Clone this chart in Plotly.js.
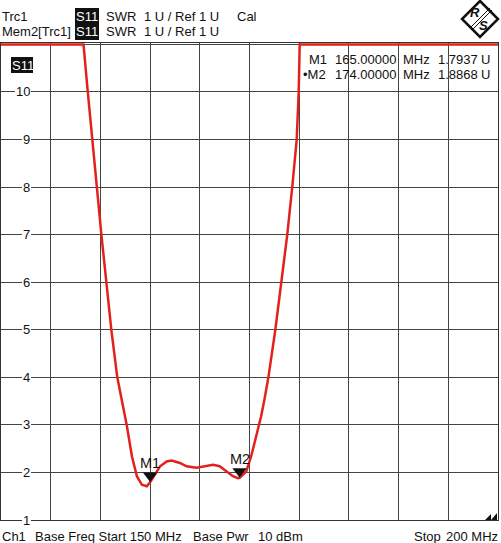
<!DOCTYPE html>
<html><head><meta charset="utf-8">
<script src="https://cdn.plot.ly/plotly-3.0.1.min.js"></script>
<style>html,body{margin:0;padding:0;background:#fff}#chart{width:501px;height:543px}</style>
</head><body><div id="chart"></div>
<script>
// ---- data ----
const freqMHz = [150, 158.3, 158.73, 159.17, 159.67, 160.1, 160.6, 161.1, 161.7,
  162.17, 162.67, 163.17, 163.67, 164.17, 164.67, 165.0, 165.5, 166.0, 166.67,
  167.17, 168.0, 168.67, 169.67, 170.67, 171.33, 172.0, 172.67, 173.33, 173.83,
  174.0, 174.67, 175.17, 175.67, 176.17, 176.5, 176.9, 177.6, 178.2, 178.8,
  179.3, 179.75, 179.95, 180.05, 200];
const swrU = [11, 11, 10, 9, 8, 7, 6, 5, 4,
  3.53, 2.97, 2.34, 1.92, 1.74, 1.71, 1.7937, 1.95, 2.13, 2.23,
  2.25, 2.20, 2.13, 2.10, 2.14, 2.16, 2.13, 2.02, 1.92, 1.88,
  1.8868, 2.02, 2.34, 2.76, 3.18, 3.53, 4, 5, 6, 7,
  8, 9, 10, 11, 11];
const markerNames = ['M1', 'M2'];
const markerFreq = [165, 174];
const markerSWR = [1.7937, 1.8868];
const yTickVals = [1, 2, 3, 4, 5, 6, 7, 8, 9, 10];
const yTickLabels = ['1', '2', '3', '4', '5', '6', '7', '8', '9', '10'];

// ---- layout helpers (pixel -> paper) ----
const L = 1, R = 498, T = 43, B = 520;
const px = v => (v - L) / (R - L);
const py = v => (B - v) / (B - T);
const FONT = 'Liberation Sans, Arial, sans-serif';
const FS = 13;
const RED = '#e3211c';

function txt(x, y, s, opts = {}) {
  return Object.assign({
    xref: 'paper', yref: 'paper', x: px(x), y: py(y), text: s, showarrow: false,
    xanchor: 'left', yanchor: 'middle', borderpad: 0, borderwidth: 0,
    font: {family: FONT, size: FS, color: '#111'}
  }, opts);
}

const annotations = [];
// header
annotations.push(txt(2, 16, 'Trc1'));
annotations.push(txt(2, 32, 'Mem2[Trc1]'));
annotations.push(txt(76, 16, 'S11', {font: {family: FONT, size: FS, color: '#fff'}}));
annotations.push(txt(76, 32, 'S11', {font: {family: FONT, size: FS, color: '#fff'}}));
annotations.push(txt(106, 16, 'SWR'));
annotations.push(txt(106, 32, 'SWR'));
annotations.push(txt(144, 16, '1 U / Ref 1 U'));
annotations.push(txt(144, 32, '1 U / Ref 1 U'));
annotations.push(txt(237, 16, 'Cal'));
// footer
annotations.push(txt(2, 536, 'Ch1'));
annotations.push(txt(35, 536, 'Base Freq Start 150 MHz'));
annotations.push(txt(193, 536, 'Base Pwr'));
annotations.push(txt(258, 536, '10 dBm'));
annotations.push(txt(414, 536, 'Stop'));
annotations.push(txt(498, 536, '200 MHz', {xanchor: 'right'}));
// S11 tag in plot
annotations.push(txt(12, 65, 'S11', {font: {family: FONT, size: FS, color: '#fff'}}));
// marker readout
markerNames.forEach((n, i) => {
  const y = 59 + i * 16;
  annotations.push(txt(i === 1 ? 303 : 309, y, (i === 1 ? '•' : '') + n));
  annotations.push(txt(335, y, markerFreq[i].toFixed(5)));
  annotations.push(txt(403, y, 'MHz'));
  annotations.push(txt(478, y, markerSWR[i].toFixed(4), {xanchor: 'right'}));
  annotations.push(txt(481, y, 'U'));
  // marker label above marker
  annotations.push({xref: 'x', yref: 'y', x: markerFreq[i], y: markerSWR[i], text: n,
    showarrow: false, yanchor: 'bottom', yshift: 10, borderpad: 0,
    font: {family: FONT, size: 14.5, color: '#111'}});
});
// y tick labels inside plot with white background
yTickVals.forEach((v, i) => {
  annotations.push({xref: 'paper', yref: 'y', x: px(31), y: v, text: yTickLabels[i],
    xanchor: 'right', yanchor: 'middle', showarrow: false, bgcolor: '#fff',
    borderpad: 1, borderwidth: 0, font: {family: FONT, size: FS, color: '#111'}});
});
// R&S logo letters
annotations.push(txt(470, 12, '<b><i>R</i></b>', {font: {family: FONT, size: 13, color: '#111'}}));
annotations.push(txt(479, 25, '<b><i>S</i></b>', {font: {family: FONT, size: 13, color: '#111'}}));

const shapes = [
  {type: 'rect', xref: 'paper', yref: 'paper', x0: px(75), x1: px(99), y0: py(8), y1: py(40),
    fillcolor: '#111', line: {width: 0}, layer: 'above'},
  {type: 'rect', xref: 'paper', yref: 'paper', x0: px(11), x1: px(33), y0: py(57), y1: py(73),
    fillcolor: '#111', line: {width: 0}, layer: 'below'},
  // logo diamond
  {type: 'path', xref: 'paper', yref: 'paper',
    path: `M ${px(480)} ${py(1)} L ${px(498)} ${py(19)} L ${px(480)} ${py(37)} L ${px(462)} ${py(19)} Z`,
    line: {color: '#111', width: 2.5}, fillcolor: 'rgba(0,0,0,0)', layer: 'above'},
  {type: 'line', xref: 'paper', yref: 'paper', x0: px(470), y0: py(28), x1: px(490), y1: py(8),
    line: {color: '#111', width: 1}},
  {type: 'line', xref: 'paper', yref: 'paper', x0: px(472), y0: py(30), x1: px(492), y1: py(10),
    line: {color: '#111', width: 1}},
  // sweep indicator at bottom right
  {type: 'path', xref: 'paper', yref: 'paper',
    path: `M ${px(485)} ${py(520)} L ${px(491)} ${py(514)} L ${px(491)} ${py(520)} Z M ${px(491)} ${py(520)} L ${px(497)} ${py(513)} L ${px(497)} ${py(520)} Z`,
    fillcolor: '#111', line: {width: 0}, layer: 'above'}
];

const traces = [
  {x: freqMHz, y: swrU, type: 'scatter', mode: 'lines', line: {color: RED, width: 2.5},
    hoverinfo: 'skip', showlegend: false},
  {x: markerFreq, y: markerSWR, type: 'scatter', mode: 'markers', hoverinfo: 'skip', showlegend: false,
    marker: {symbol: 'triangle-up', angle: 180, size: 12.5, color: '#111', standoff: 6.5}}
];

const layout = {
  width: 501, height: 543,
  margin: {l: L, r: 501 - R, t: T, b: 543 - B, pad: 0},
  paper_bgcolor: '#fff', plot_bgcolor: '#fff',
  showlegend: false,
  xaxis: {range: [150, 200], tick0: 150, dtick: 5, showgrid: true, gridcolor: '#444', gridwidth: 1,
    showticklabels: false, ticks: '', zeroline: false, showline: true, linecolor: '#333', linewidth: 1, mirror: true,
    fixedrange: true},
  yaxis: {range: [1, 11.03], tick0: 1, dtick: 1, showgrid: true, gridcolor: '#444', gridwidth: 1,
    showticklabels: false, ticks: '', zeroline: false, showline: true, linecolor: '#333', linewidth: 1, mirror: true,
    fixedrange: true},
  annotations: annotations,
  shapes: shapes
};

Plotly.newPlot('chart', traces, layout, {displayModeBar: false, staticPlot: true});
</script>
</body></html>
